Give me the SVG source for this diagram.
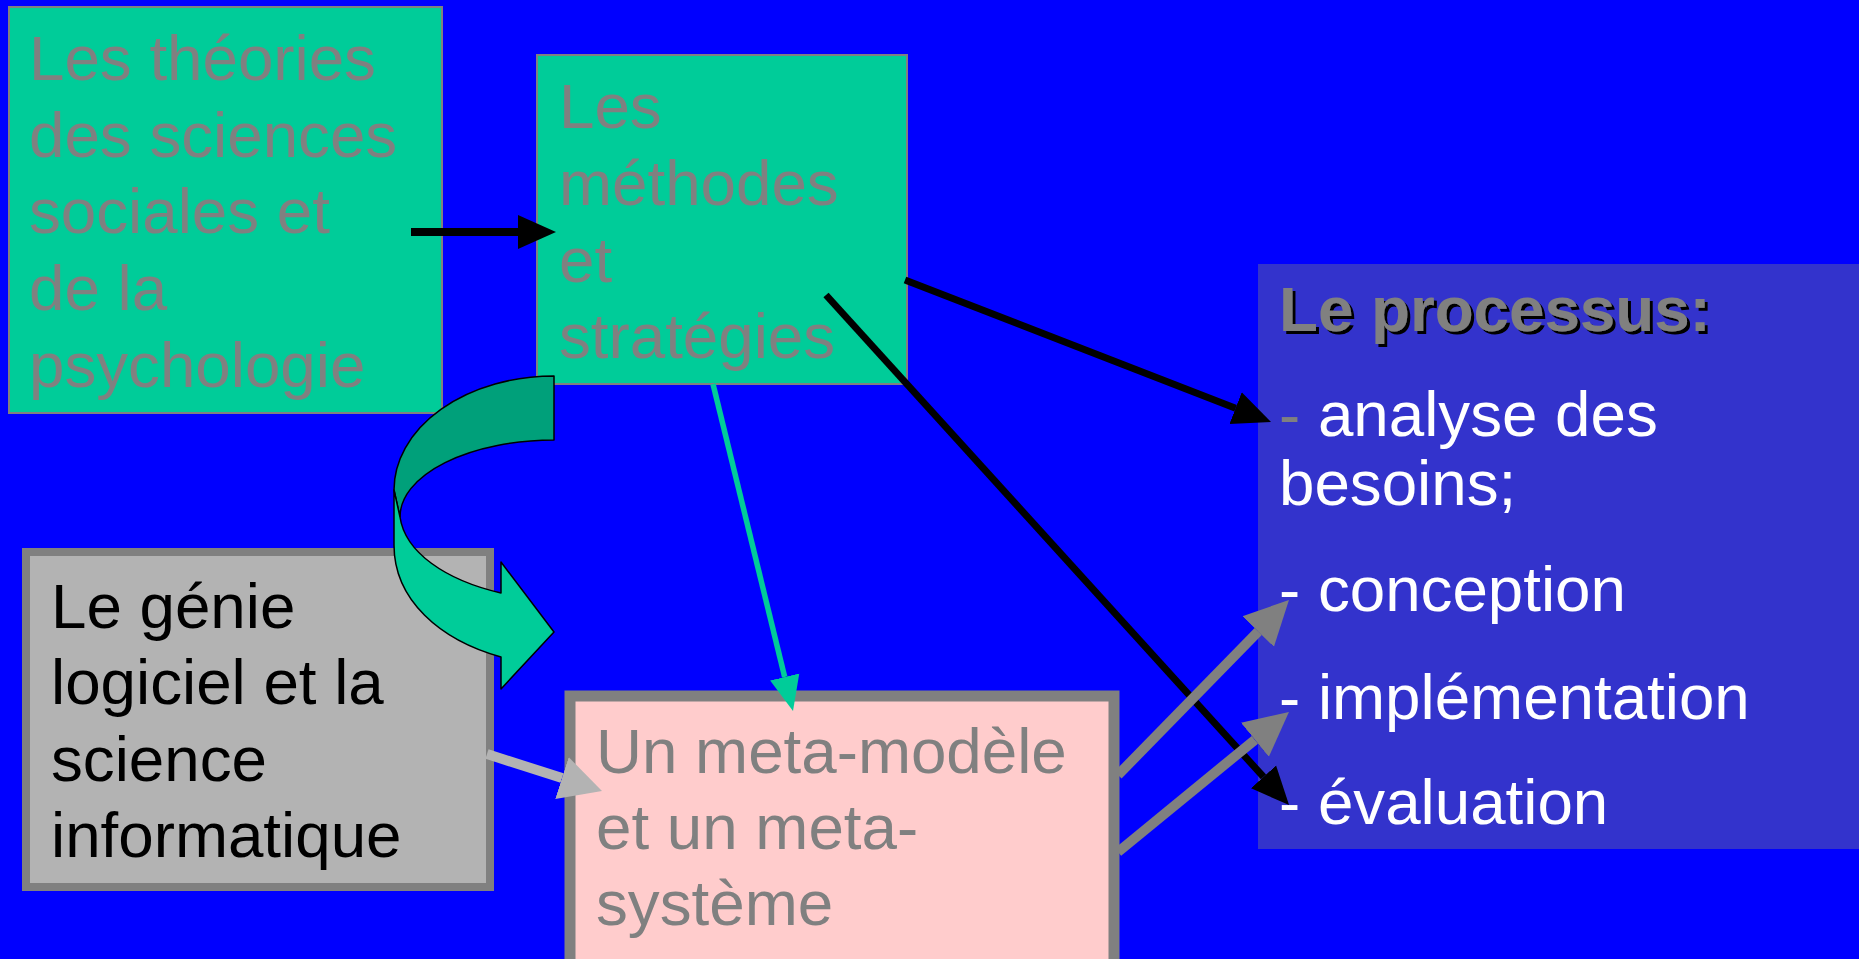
<svg xmlns="http://www.w3.org/2000/svg" width="1859" height="959" viewBox="0 0 1859 959">
<style>
  text { font-family: "Liberation Sans", Arial, sans-serif; font-size: 63.7px; }
  .gray { fill: #808080; }
  .white { fill: #FFFFFF; }
  .black { fill: #000000; }
  .green { fill: #00CC99; stroke: #808080; stroke-width: 2; }
  .bold { font-weight: bold; }
</style>
<defs>
  <filter id="shadow" x="-10%" y="-10%" width="130%" height="140%">
    <feDropShadow dx="3" dy="3" stdDeviation="0" flood-color="#000000" flood-opacity="1"/>
  </filter>
  <marker id="mBlack" markerUnits="userSpaceOnUse" orient="auto" markerWidth="40" markerHeight="36" refX="0" refY="18" viewBox="0 0 40 36">
    <path d="M0,1 L38,18 L0,35 Z" fill="#000000"/>
  </marker>
  <marker id="mTeal" markerUnits="userSpaceOnUse" orient="auto" markerWidth="36" markerHeight="32" refX="0" refY="16" viewBox="0 0 36 32">
    <path d="M0,1 L35,16 L0,31 Z" fill="#00CC99"/>
  </marker>
  <marker id="mLight" markerUnits="userSpaceOnUse" orient="auto" markerWidth="44" markerHeight="46" refX="0" refY="23" viewBox="0 0 44 46">
    <path d="M0,1 L42,23 L0,45 Z" fill="#B3B3B3"/>
  </marker>
  <marker id="mGray" markerUnits="userSpaceOnUse" orient="auto" markerWidth="46" markerHeight="46" refX="0" refY="23" viewBox="0 0 46 46">
    <path d="M0,1 L44,23 L0,45 Z" fill="#808080"/>
  </marker>
</defs>
<rect x="0" y="0" width="1859" height="959" fill="#0000FF"/>

<g id="node-theories">
  <rect class="green" x="9" y="7" width="433" height="406"/>
  <text class="gray">
    <tspan x="29" y="80">Les théories</tspan>
    <tspan x="29" y="157">des sciences</tspan>
    <tspan x="29" y="233">sociales et</tspan>
    <tspan x="29" y="310">de la</tspan>
    <tspan x="29" y="387">psychologie</tspan>
  </text>
</g>

<g id="node-methodes">
  <rect class="green" x="537" y="55" width="370" height="329"/>
  <text class="gray">
    <tspan x="559" y="128">Les</tspan>
    <tspan x="559" y="205">méthodes</tspan>
    <tspan x="559" y="282">et</tspan>
    <tspan x="559" y="358">stratégies</tspan>
  </text>
</g>

<g id="node-genie">
  <rect x="26" y="552" width="464" height="335" fill="#B3B3B3" stroke="#808080" stroke-width="8"/>
  <text class="black">
    <tspan x="51" y="628">Le génie</tspan>
    <tspan x="51" y="704">logiciel et la</tspan>
    <tspan x="51" y="781">science</tspan>
    <tspan x="51" y="857">informatique</tspan>
  </text>
</g>

<g id="node-meta">
  <rect x="570" y="696" width="544" height="290" fill="#FFCCCC" stroke="#808080" stroke-width="11"/>
  <text class="gray">
    <tspan x="596" y="773">Un meta-modèle</tspan>
    <tspan x="596" y="849">et un meta-</tspan>
    <tspan x="596" y="925">système</tspan>
  </text>
</g>

<g id="node-processus">
  <rect x="1258" y="264" width="610" height="585" fill="#3333CC"/>
  <text class="gray bold" x="1279" y="331" filter="url(#shadow)">Le processus:</text>
  <text class="white" x="1279" y="436"><tspan class="gray">-</tspan> analyse des</text>
  <text class="white" x="1279" y="505">besoins;</text>
  <text class="white" x="1279" y="611">- conception</text>
  <text class="white" x="1279" y="719">- implémentation</text>
  <text class="white" x="1279" y="824">- évaluation</text>
</g>

<g id="connectors">
  <line x1="411" y1="232" x2="518" y2="232" stroke="#000000" stroke-width="8" marker-end="url(#mBlack)"/>
  <line x1="905" y1="280" x2="1235.6" y2="408.2" stroke="#000000" stroke-width="7" marker-end="url(#mBlack)"/>
  <line x1="826" y1="295" x2="1263.5" y2="776.9" stroke="#000000" stroke-width="7" marker-end="url(#mBlack)"/>
  <line x1="713" y1="384" x2="784.7" y2="677" stroke="#00CC99" stroke-width="5.5" marker-end="url(#mTeal)"/>
  <line x1="487" y1="754" x2="562" y2="778.1" stroke="#B3B3B3" stroke-width="10" marker-end="url(#mLight)"/>
  <line x1="1118" y1="775" x2="1258.2" y2="631.5" stroke="#808080" stroke-width="10" marker-end="url(#mGray)"/>
  <line x1="1118" y1="852" x2="1254.9" y2="739.8" stroke="#808080" stroke-width="10" marker-end="url(#mGray)"/>
  <g id="curved-arrow" stroke="#000000" stroke-width="1.5" stroke-linejoin="round">
    <path d="M554,376 A160,114 0 0 0 394,490 L400,517 A154,77 0 0 1 554,440 Z" fill="#00A07A"/>
    <path d="M394,490 L394,545 C394,600 440,640 501,657 L501,689 L554,632 L501,562 L501,593 C445,580 405,552 400,517 Z" fill="#00CC99"/>
  </g>
</g>
</svg>
